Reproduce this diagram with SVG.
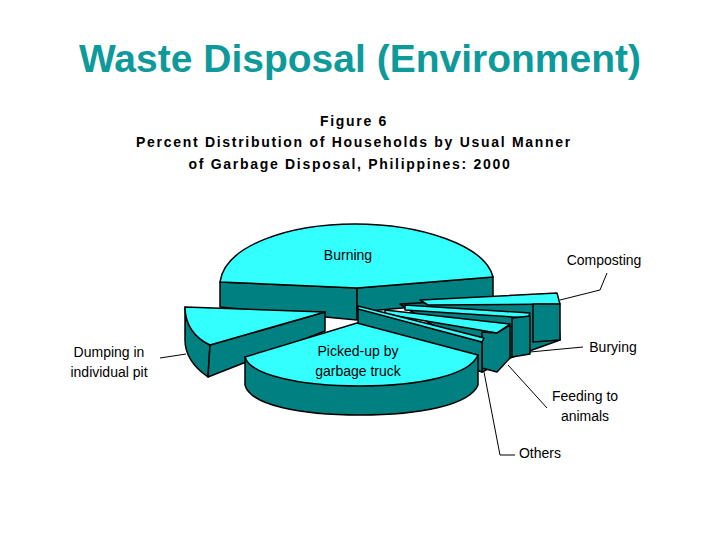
<svg xmlns="http://www.w3.org/2000/svg" width="720" height="540" viewBox="0 0 720 540">
<style>
.t{fill:#33FFFF;stroke:#000;stroke-width:1.5;stroke-linejoin:round}
.s{fill:#008080;stroke:#000;stroke-width:1.5;stroke-linejoin:round}
.lbl{font-family:"Liberation Sans",Arial,sans-serif;font-size:14px;fill:#000;text-anchor:middle}
.fig{font-family:"Liberation Sans",Arial,sans-serif;font-size:14px;font-weight:bold;fill:#000;text-anchor:middle;letter-spacing:1.7px}
.ld{fill:none;stroke:#000;stroke-width:1}
</style>
<rect width="720" height="540" fill="#fff"/>
<text x="360" y="72" font-family="'Liberation Sans',Arial,sans-serif" font-size="39" font-weight="bold" fill="#0E9A9A" text-anchor="middle">Waste Disposal (Environment)</text>
<text class="fig" x="354" y="126">Figure 6</text>
<text class="fig" x="354" y="147">Percent Distribution of Households by Usual Manner</text>
<text class="fig" x="350" y="169">of Garbage Disposal, Philippines: 2000</text>
<g id="burning">
<path class="s" d="M220,282 L357,288 L357,320 L220,307 Z"/>
<path class="s" d="M357,288 L493,277 L493,300 L357,312 Z"/>
<path class="t" d="M220,282 C225,245 290,224 355,224 C420,224 485,245 493,277 L357,288 Z"/>
</g>
<path class="s" d="M400,304 L557,295 L560,340 L510,358 L482,372 L440,330 Z"/>
<g id="composting">
<path class="t" d="M420,300 L557,293 L560,304 L428,305 Z"/>
<path class="s" d="M533,304 L560,304 L560,340 L533,342 Z"/>
</g>
<g id="burying">
<path class="t" d="M405,305 L530,313 L528,318 L405,310 Z"/>
<path class="s" d="M512,318 L530,316 L530,354 L512,357 Z"/>
</g>
<g id="feeding">
<path class="t" d="M385,310 L510,324 L497,333 L385,314 Z"/>
<path class="s" d="M482,332 L497,333 L510,325 L510,358 L497,372 L482,368 Z"/>
</g>
<g id="others">
<path class="s" d="M358,308 L482,342 L482,372 L358,330 Z"/>
<path class="t" d="M358,306 L484,338 L482,342 L358,309 Z"/>
</g>
<g id="dumping">
<path class="s" d="M185,307 C185,325 195,338 210,345 L208,377 C195,368 185,355 185,340 Z"/>
<path class="s" d="M210,345 L325,312 L325,331 L208,377 Z"/>
<path class="t" d="M185,307 L325,312 L210,345 C195,338 185,325 185,307 Z"/>
</g>
<g id="pickedup">
<path class="s" d="M245,357 L245,385 C250,405 300,415 360,415 C420,415 470,405 478,385 L478,355 Z"/>
<path class="t" d="M357,323 L478,355 C470,375 420,386 360,386 C300,386 250,375 245,357 Z"/>
</g>
<g id="connectors">
<path class="ld" d="M560,300 L600,290 L607,273"/>
<path class="ld" d="M530,352 L583,347"/>
<path class="ld" d="M508,365 L547,408"/>
<path class="ld" d="M484,372 L500,455 L515,455"/>
<path class="ld" d="M160,358 L186,354"/>
</g>
<g id="labels">
<text class="lbl" x="348" y="260">Burning</text>
<text class="lbl" x="604" y="265">Composting</text>
<text class="lbl" x="613" y="352">Burying</text>
<text class="lbl" x="585" y="401">Feeding to</text>
<text class="lbl" x="585" y="421">animals</text>
<text class="lbl" x="540" y="458">Others</text>
<text class="lbl" x="109" y="357">Dumping in</text>
<text class="lbl" x="109" y="377">individual pit</text>
<text class="lbl" x="358" y="356">Picked-up by</text>
<text class="lbl" x="358" y="376">garbage truck</text>
</g>
</svg>
